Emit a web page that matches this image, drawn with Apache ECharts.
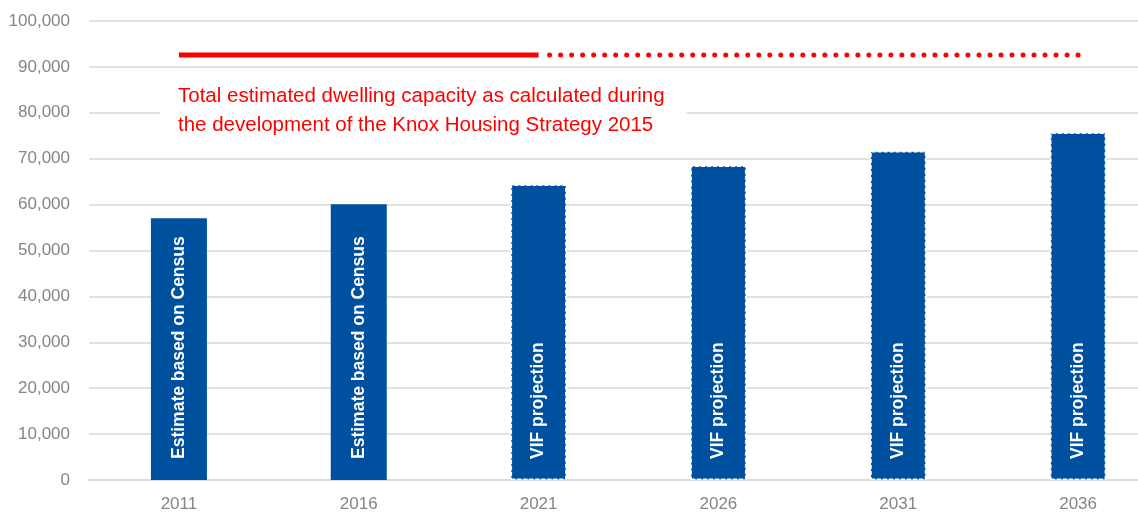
<!DOCTYPE html>
<html>
<head>
<meta charset="utf-8">
<script src="https://cdn.jsdelivr.net/npm/echarts@6/dist/echarts.min.js"></script>
<style>
  html, body { margin: 0; padding: 0; background: #fff; }
  #chart { width: 1138px; height: 516px; }
</style>
</head>
<body>
<div id="chart"></div>
<script>
// Dwelling numbers by year (Census estimates and VIF projections)
const years = ['2011', '2016', '2021', '2026', '2031', '2036'];
const dwellings = [57000, 60100, 64400, 68500, 71700, 75700];
const barLabels = ['Estimate based on Census', 'Estimate based on Census',
  'VIF projection', 'VIF projection', 'VIF projection', 'VIF projection'];
const isProjection = [false, false, true, true, true, true];

// Total estimated dwelling capacity (Knox Housing Strategy 2015)
const capacity = 92600;
const capacityNote = 'Total estimated dwelling capacity as calculated during\nthe development of the Knox Housing Strategy 2015';
// solid up to 2021, dotted from 2021 on
const capacitySolid = [capacity, capacity, capacity, null, null, null];
const capacityDotted = [null, null, capacity, capacity, capacity, capacity];

const FONT = '"Liberation Sans", Arial, sans-serif';
const BLUE = '#0050A0';
const RED = '#FF0000';

const chart = echarts.init(document.getElementById('chart'));

const barData = dwellings.map((v, i) => ({
  value: v,
  label: { formatter: barLabels[i] },
  itemStyle: isProjection[i]
    ? { color: BLUE, borderColor: '#ffffff', borderWidth: 1.5, borderType: [4, 2] }
    : { color: BLUE }
}));

chart.setOption({
  animation: false,
  textStyle: { fontFamily: FONT },
  // plot area runs past the right edge of the canvas
  grid: { left: 89, right: -30, top: 21, bottom: 36, containLabel: false, outerBoundsMode: 'none' },
  xAxis: {
    type: 'category',
    data: years,
    axisLine: { show: true, lineStyle: { color: '#D9D9D9', width: 1.5 } },
    axisTick: { show: false },
    axisLabel: { color: '#858585', fontSize: 17, margin: 16, fontFamily: FONT }
  },
  yAxis: {
    type: 'value',
    min: 0,
    max: 100000,
    interval: 10000,
    axisLine: { show: false },
    axisTick: { show: false },
    splitLine: { lineStyle: { color: '#D9D9D9', width: 1.5 } },
    axisLabel: {
      color: '#858585', fontSize: 17, margin: 19, fontFamily: FONT,
      formatter: v => v.toLocaleString('en-US')
    }
  },
  series: [
    {
      type: 'bar',
      data: barData,
      barWidth: 56,
      label: {
        show: true,
        position: 'insideBottom',
        rotate: 90,
        align: 'left',
        verticalAlign: 'middle',
        distance: 21,
        color: '#ffffff',
        fontWeight: 'bold',
        fontSize: 17.5,
        fontFamily: FONT
      },
      z: 2
    },
    {
      type: 'line',
      data: capacitySolid,
      symbol: 'none',
      connectNulls: false,
      lineStyle: { color: RED, width: 5, cap: 'butt' },
      z: 3
    },
    {
      type: 'line',
      data: capacityDotted,
      symbol: 'none',
      connectNulls: false,
      lineStyle: { color: RED, width: 5, type: [0.01, 11], cap: 'round', dashOffset: -11 },
      z: 3
    }
  ],
  graphic: [
    {
      type: 'text',
      left: 160,
      top: 80,
      z: 10,
      style: {
        text: capacityNote,
        fill: RED,
        font: '20.5px ' + FONT,
        lineHeight: 29,
        backgroundColor: '#ffffff',
        padding: [2, 22, 4, 18]
      }
    }
  ]
});
</script>
</body>
</html>
